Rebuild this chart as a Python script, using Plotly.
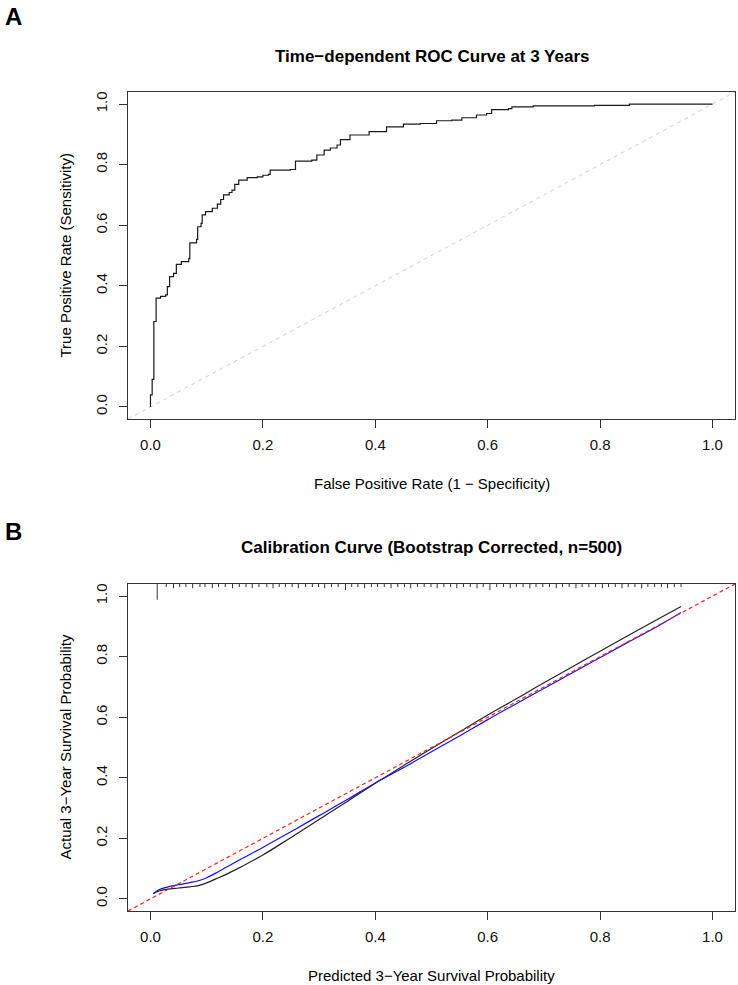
import plotly.graph_objects as go

# ---------------- data ----------------
# Panel A: time-dependent ROC at 3 years (step points: x where the rise happens, new TPR)
roc_fpr = [0.000, 0.000, 0.003, 0.006, 0.010, 0.018, 0.027, 0.030, 0.034, 0.041, 0.046,
           0.055, 0.068, 0.070, 0.082, 0.084, 0.090, 0.092, 0.098, 0.110, 0.119, 0.125,
           0.130, 0.140, 0.145, 0.150, 0.157, 0.172, 0.190, 0.200, 0.210, 0.213, 0.249,
           0.258, 0.287, 0.296, 0.309, 0.320, 0.332, 0.338, 0.355, 0.389, 0.420, 0.450,
           0.480, 0.509, 0.536, 0.554, 0.580, 0.598, 0.607, 0.637, 0.643, 0.681, 0.790,
           0.852, 1.000]
roc_tpr = [0.000, 0.040, 0.091, 0.282, 0.359, 0.365, 0.370, 0.397, 0.430, 0.441, 0.471,
           0.480, 0.490, 0.542, 0.553, 0.595, 0.606, 0.634, 0.645, 0.656, 0.670, 0.685,
           0.700, 0.708, 0.716, 0.735, 0.749, 0.757, 0.760, 0.765, 0.768, 0.782, 0.784,
           0.812, 0.815, 0.832, 0.848, 0.855, 0.865, 0.883, 0.898, 0.909, 0.925, 0.934,
           0.936, 0.945, 0.947, 0.955, 0.964, 0.969, 0.982, 0.985, 0.991, 0.994, 0.996,
           1.000, 1.000]

# Panel B: calibration curves
cal_pred = [0.005, 0.015, 0.030, 0.050, 0.070, 0.085, 0.100, 0.120, 0.150, 0.200, 0.250,
            0.300, 0.350, 0.400, 0.450, 0.500, 0.550, 0.600, 0.650, 0.700, 0.750, 0.800,
            0.850, 0.900, 0.944]
cal_apparent = [0.017, 0.026, 0.032, 0.036, 0.040, 0.044, 0.053, 0.069, 0.095, 0.145, 0.203,
                0.262, 0.322, 0.382, 0.440, 0.497, 0.552, 0.607, 0.660, 0.714, 0.766, 0.818,
                0.870, 0.921, 0.966]
cal_corrected = [0.017, 0.030, 0.039, 0.047, 0.054, 0.060, 0.070, 0.089, 0.120, 0.170, 0.222,
                 0.275, 0.328, 0.383, 0.433, 0.486, 0.538, 0.592, 0.644, 0.695, 0.746, 0.797,
                 0.848, 0.898, 0.946]

# rug of predicted values along the top of panel B (position, tick length)
rug_x = [0.012, 0.028, 0.041, 0.052, 0.063, 0.075, 0.088, 0.097, 0.110, 0.121, 0.133, 0.146,
         0.158, 0.170, 0.181, 0.193, 0.207, 0.218, 0.229, 0.240, 0.252, 0.263, 0.276, 0.288,
         0.299, 0.310, 0.322, 0.334, 0.347, 0.358, 0.369, 0.381, 0.393, 0.404, 0.416, 0.428,
         0.440, 0.452, 0.463, 0.475, 0.487, 0.499, 0.510, 0.522, 0.534, 0.545, 0.557, 0.569,
         0.581, 0.592, 0.604, 0.616, 0.628, 0.640, 0.651, 0.663, 0.675, 0.686, 0.698, 0.710,
         0.722, 0.733, 0.745, 0.757, 0.768, 0.780, 0.792, 0.804, 0.815, 0.827, 0.839, 0.850,
         0.862, 0.874, 0.885, 0.897, 0.909, 0.920, 0.932, 0.944]
rug_len = [0.052, 0.010, 0.014, 0.010, 0.010, 0.014, 0.010, 0.010, 0.014, 0.010, 0.010, 0.014,
           0.010, 0.010, 0.014, 0.010, 0.010, 0.014, 0.010, 0.010, 0.010, 0.014, 0.010, 0.010,
           0.010, 0.014, 0.010, 0.010, 0.020, 0.010, 0.010, 0.014, 0.010, 0.010, 0.010, 0.014,
           0.010, 0.010, 0.014, 0.010, 0.010, 0.010, 0.014, 0.010, 0.010, 0.014, 0.010, 0.010,
           0.014, 0.010, 0.020, 0.010, 0.010, 0.014, 0.010, 0.010, 0.014, 0.010, 0.010, 0.010,
           0.014, 0.010, 0.010, 0.014, 0.010, 0.010, 0.010, 0.014, 0.010, 0.010, 0.014, 0.010,
           0.010, 0.014, 0.010, 0.010, 0.010, 0.014, 0.010, 0.010]

tick_vals = [0.0, 0.2, 0.4, 0.6, 0.8, 1.0]
tick_text = ["0.0", "0.2", "0.4", "0.6", "0.8", "1.0"]
AX_RANGE = [-0.04, 1.04]

# ---------------- figure ----------------
W, H = 738, 985
FONT = "Liberation Sans, Arial, Helvetica, sans-serif"
TXT = "#111111"

def fx(p):
    return p / W

def fy(p):
    return 1 - p / H

fig = go.Figure()

# Panel A
fig.add_trace(go.Scatter(x=AX_RANGE, y=AX_RANGE, mode="lines", xaxis="x", yaxis="y",
                         line=dict(color="#cfcfcf", width=1, dash="4px,4px"),
                         showlegend=False, hoverinfo="skip"))
fig.add_trace(go.Scatter(x=roc_fpr, y=roc_tpr, mode="lines", xaxis="x", yaxis="y",
                         line=dict(color="#1a1a1a", width=1.2, shape="hv"),
                         showlegend=False))

# Panel B
rx, ry = [], []
for xv, ln in zip(rug_x, rug_len):
    rx += [xv, xv, None]
    ry += [AX_RANGE[1], AX_RANGE[1] - ln, None]
fig.add_trace(go.Scatter(x=rx, y=ry, mode="lines", xaxis="x2", yaxis="y2",
                         line=dict(color="#333333", width=1), showlegend=False,
                         hoverinfo="skip"))
fig.add_trace(go.Scatter(x=cal_pred, y=cal_apparent, mode="lines", xaxis="x2", yaxis="y2",
                         line=dict(color="#222222", width=1.2, shape="spline"),
                         showlegend=False))
fig.add_trace(go.Scatter(x=cal_pred, y=cal_corrected, mode="lines", xaxis="x2", yaxis="y2",
                         line=dict(color="#1010ff", width=1.2, shape="spline"),
                         showlegend=False))
fig.add_trace(go.Scatter(x=AX_RANGE, y=AX_RANGE, mode="lines", xaxis="x2", yaxis="y2",
                         line=dict(color="#ff2020", width=1.2, dash="4px,3px"),
                         showlegend=False, hoverinfo="skip"))

def axis(domain, anchor, vertical=False):
    d = dict(domain=domain, anchor=anchor, range=AX_RANGE, tickmode="array",
             tickvals=tick_vals, ticktext=tick_text, ticks="outside", ticklen=8,
             tickcolor="#333333", tickwidth=1, showline=True, mirror=True,
             linecolor="#333333", linewidth=1, showgrid=False, zeroline=False,
             tickfont=dict(family=FONT, size=15, color=TXT), fixedrange=True,
             ticklabelstandoff=6 if vertical else 4)
    if vertical:
        d["tickangle"] = -90
    return d

xdom = [fx(128), fx(735)]
fig.update_layout(
    width=W, height=H,
    margin=dict(l=0, r=0, t=0, b=0),
    paper_bgcolor="white", plot_bgcolor="white",
    font=dict(family=FONT, color=TXT),
    xaxis=axis(xdom, "y"),
    yaxis=axis([fy(419), fy(92)], "x", vertical=True),
    xaxis2=axis(xdom, "y2"),
    yaxis2=axis([fy(911), fy(584)], "x2", vertical=True),
)

cx = fx((128 + 735) / 2)
ann = [
    dict(text="<b>A</b>", x=fx(3), y=fy(17), size=24, xanchor="left"),
    dict(text="<b>B</b>", x=fx(3), y=fy(531), size=24, xanchor="left"),
    dict(text="<b>Time\u2212dependent ROC Curve at 3 Years</b>", x=cx, y=fy(57), size=17),
    dict(text="<b>Calibration Curve (Bootstrap Corrected, n=500)</b>", x=cx, y=fy(547), size=17),
    dict(text="False Positive Rate (1 \u2212 Specificity)", x=cx, y=fy(483), size=15),
    dict(text="Predicted 3\u2212Year Survival Probability", x=cx, y=fy(975), size=15),
    dict(text="True Positive Rate (Sensitivity)", x=fx(65), y=fy((92 + 419) / 2), size=15, angle=-90),
    dict(text="Actual 3\u2212Year Survival Probability", x=fx(65), y=fy((584 + 911) / 2), size=15, angle=-90),
]
annotations = []
for a in ann:
    annotations.append(dict(text=a["text"], x=a["x"], y=a["y"], xref="paper", yref="paper",
                            showarrow=False, xanchor=a.get("xanchor", "center"),
                            yanchor="middle", textangle=a.get("angle", 0),
                            font=dict(family=FONT, size=a["size"], color="#000000")))
fig.update_layout(annotations=annotations)

fig.write_html("out.html")
